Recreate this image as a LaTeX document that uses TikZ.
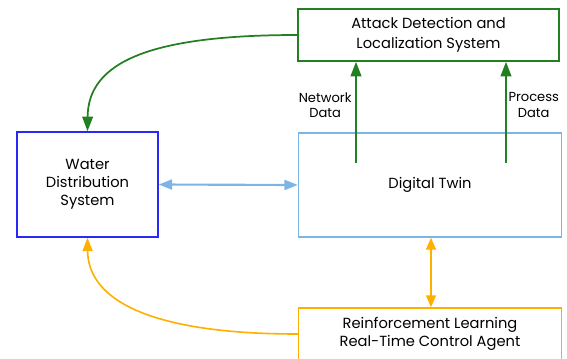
\documentclass[tikz,border=0pt]{standalone}
\usepackage{fontspec}
\setmainfont{Poppins}
\usetikzlibrary{arrows.meta}

\definecolor{attackgreen}{RGB}{34,128,34}
\definecolor{wdsblue}{RGB}{40,40,250}
\definecolor{twinblue}{RGB}{125,180,230}
\definecolor{rlorange}{RGB}{255,175,0}

\tikzset{every picture/.style={line width=0.75pt}}
\tikzset{
  sysbox/.style={draw, line width=1.1pt, align=center, inner sep=0.75pt, font=\fontsize{11}{13.5}\selectfont},
  greenhead/.style={-{Triangle[length=11pt,width=8pt]}, draw=attackgreen, line width=1.6pt},
  bluehead/.style={{Triangle[length=10pt,width=7.5pt]}-{Triangle[length=10pt,width=7.5pt]}, draw=twinblue, line width=1.6pt},
  orangehead/.style={draw=rlorange, line width=1.2pt},
  datalabel/.style={inner sep=0.75pt, align=center, font=\fontsize{9.8}{11.5}\selectfont}
}

\begin{document}
\begin{tikzpicture}[x=0.75pt,y=0.75pt,yscale=-1,xscale=1]
\useasboundingbox (0,0) rectangle (567,358);
\clip (0,0) rectangle (567,358);

%Shape: Rectangle [id:attack]
\node [sysbox, draw=attackgreen, minimum width=195.75pt, minimum height=39pt, font=\fontsize{11}{15}\selectfont] (attack) at (428.5,35) {Attack Detection and\\Localization System};
%Shape: Rectangle [id:water]
\node [sysbox, draw=wdsblue, minimum width=105.75pt, minimum height=78.75pt] (water) at (87.5,184.5) {Water\\Distribution\\System};
%Shape: Rectangle [id:twin]
\node [sysbox, draw=twinblue, minimum width=197.25pt, minimum height=78pt] (twin) at (430,185) {Digital Twin};
%Shape: Rectangle [id:rl]
\node [sysbox, draw=rlorange, minimum width=197.25pt, minimum height=39pt] (rl) at (430,334) {Reinforcement Learning\\Real-Time Control Agent};

% Sources of the data arrows
\coordinate (netsrc) at (356,163);
\coordinate (procsrc) at (506,163);

%Straight Lines [id:network]
\draw [greenhead] (netsrc) -- (netsrc |- attack.south);
%Straight Lines [id:process]
\draw [greenhead] (procsrc) -- (procsrc |- attack.south);
%Straight Lines [id:wds-twin]
\draw [bluehead] (water.east) -- (twin.west);
%Straight Lines [id:twin-rl]
\draw [orangehead, {Triangle[length=9pt,width=7.5pt]}-{Triangle[length=9pt,width=7.5pt]}] (twin.south -| 431,0) -- (rl.north -| 431,0);

%Curve Lines [id:attack-wds]
\draw [greenhead, line width=1.3pt] (attack.west) .. controls (150,35) and (88,62) .. (water.north);
%Curve Lines [id:rl-wds]
\draw [orangehead, -{Triangle[length=10pt,width=7.5pt]}] (rl.west) .. controls (150,334) and (88,300) .. (water.south);

% Text Node
\node [datalabel, anchor=east] (netlabel) at (353,105) {Network\\Data};
% Text Node
\node [datalabel, anchor=west] (proclabel) at (507,105) {Process\\Data};

\end{tikzpicture}
\end{document}
